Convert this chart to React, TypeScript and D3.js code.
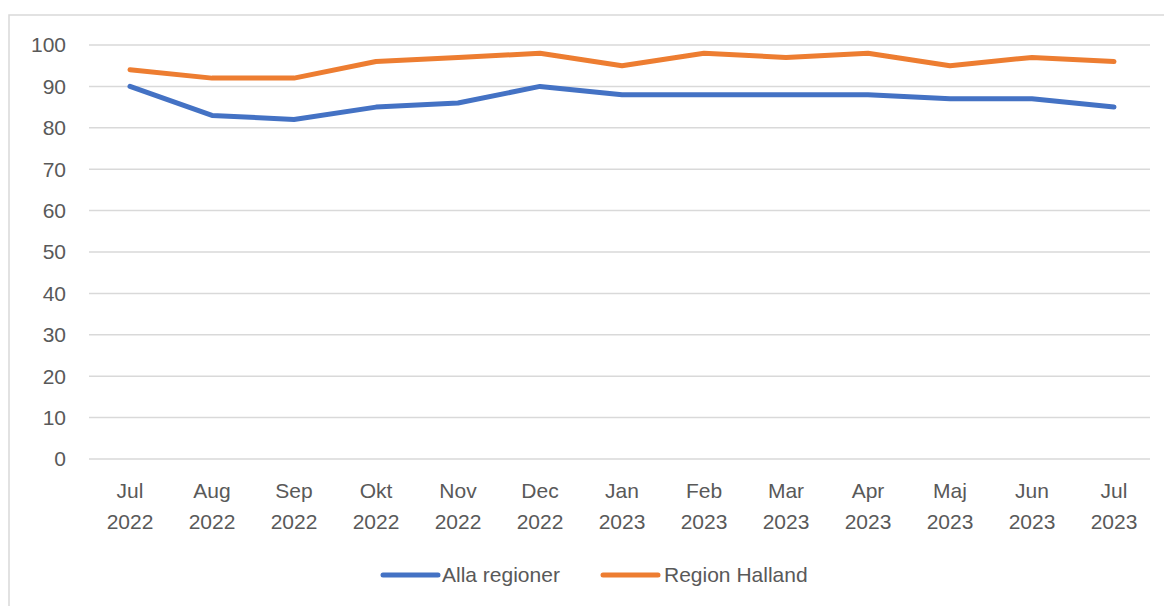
import React from "react";
import * as d3 from "d3";

const months = ["Jul", "Aug", "Sep", "Okt", "Nov", "Dec", "Jan", "Feb", "Mar", "Apr", "Maj", "Jun", "Jul"];
const years = ["2022", "2022", "2022", "2022", "2022", "2022", "2023", "2023", "2023", "2023", "2023", "2023", "2023"];
const allaRegioner = [90, 83, 82, 85, 86, 90, 88, 88, 88, 88, 87, 87, 85];
const regionHalland = [94, 92, 92, 96, 97, 98, 95, 98, 97, 98, 95, 97, 96];
const yTicks = [0, 10, 20, 30, 40, 50, 60, 70, 80, 90, 100];

const series = [
  { name: "Alla regioner", values: allaRegioner, color: "#4472C4" },
  { name: "Region Halland", values: regionHalland, color: "#ED7D31" },
];

const W = 1164;
const H = 606;
const left = 89, right = 1155, top = 45, bottom = 459;
const font = "'Liberation Sans', Arial, sans-serif";
const textColor = "#595959";
const fs = 21;

const App = () => {
  const x = d3.scaleBand<number>()
    .domain(months.map((_, i) => i))
    .range([left, right]);
  const y = d3.scaleLinear().domain([0, 100]).range([bottom, top]);

  const line = d3.line<number>()
    .x((_, i) => x(i)! + x.bandwidth() / 2)
    .y((d) => y(d));

  // legend positions
  const legend = [
    { lx: 383, tx: 442 },
    { lx: 603, tx: 664 },
  ];

  return (
    <svg width={W} height={H} style={{ position: "absolute", left: 0, top: 0 }}>
      <rect x={0} y={0} width={W} height={H} fill="#fff" />
      <rect x={9} y={15} width={W} height={H} fill="none" stroke="#d9d9d9" strokeWidth={1.5} />

      {yTicks.map((t) => (
        <g key={t}>
          <line x1={left} x2={1150} y1={y(t)} y2={y(t)} stroke="#d9d9d9" strokeWidth={1.5} />
          <text x={66} y={y(t)} dy="0.35em" textAnchor="end" fontFamily={font} fontSize={fs} fill={textColor}>
            {t}
          </text>
        </g>
      ))}

      {months.map((m, i) => (
        <text key={i} x={x(i)! + x.bandwidth() / 2} textAnchor="middle" fontFamily={font} fontSize={fs} fill={textColor}>
          <tspan x={x(i)! + x.bandwidth() / 2} y={498}>{m}</tspan>
          <tspan x={x(i)! + x.bandwidth() / 2} y={529}>{years[i]}</tspan>
        </text>
      ))}

      {series.map((s) => (
        <path key={s.name} d={line(s.values) || ""} fill="none" stroke={s.color}
          strokeWidth={5} strokeLinejoin="round" strokeLinecap="round" />
      ))}

      {series.map((s, i) => (
        <g key={s.name}>
          <line x1={legend[i].lx} x2={legend[i].lx + 55} y1={575} y2={575} stroke={s.color} strokeWidth={5} strokeLinecap="round" />
          <text x={legend[i].tx} y={575} dy="0.35em" fontFamily={font} fontSize={fs} fill={textColor}>
            {s.name}
          </text>
        </g>
      ))}
    </svg>
  );
};

export default App;
